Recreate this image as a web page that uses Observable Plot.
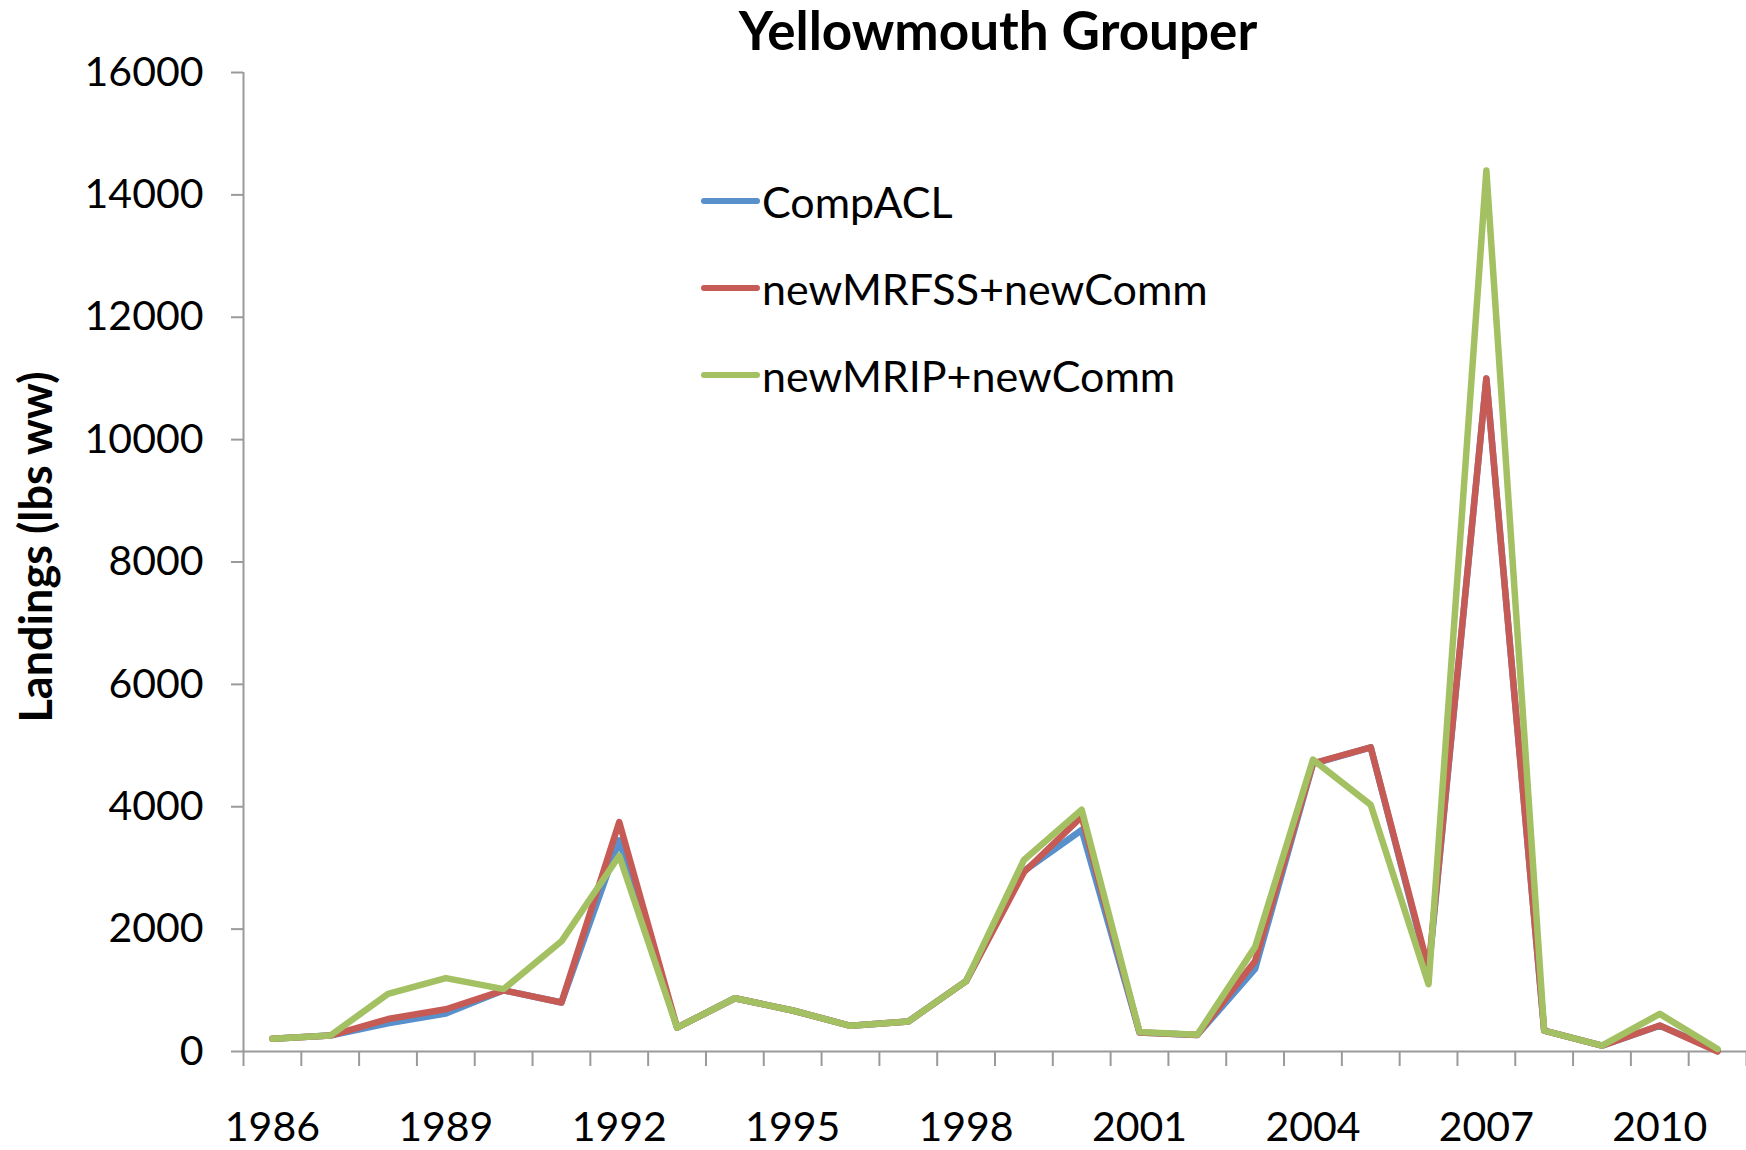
<!DOCTYPE html>
<html><head><meta charset="utf-8">
<script src="https://cdn.jsdelivr.net/npm/d3@7"></script>
<script src="https://cdn.jsdelivr.net/npm/@observablehq/plot@0.6"></script>
<style>
body{margin:0;background:#fff;}
#wrap{position:relative;width:1746px;height:1150px;font-family:Lato, sans-serif;}
.leg{position:absolute;display:flex;align-items:center;font-size:43px;color:#000;white-space:nowrap;}
.leg svg{margin-right:1px;}
</style></head><body><div id="wrap"></div>
<script>
const years = [1986,1987,1988,1989,1990,1991,1992,1993,1994,1995,1996,1997,1998,1999,2000,2001,2002,2003,2004,2005,2006,2007,2008,2009,2010,2011];
const compACL = [210,260,460,620,1000,800,3450,390,870,670,420,490,1150,2950,3620,310,270,1350,4700,4970,1300,11000,340,95,420,20];
const newMRFSS = [210,260,530,690,1000,800,3750,390,870,670,420,490,1150,2930,3840,310,270,1480,4710,4970,1350,11000,340,95,425,0];
const newMRIP = [210,260,940,1200,1020,1800,3200,390,870,670,420,490,1150,3130,3950,320,275,1710,4770,4030,1100,14400,340,95,615,40];
const seriesNames = ["CompACL","newMRFSS+newComm","newMRIP+newComm"];
const seriesColors = ["#5890CC","#C65B55","#A3C162"];
const yTicks = [0,2000,4000,6000,8000,10000,12000,14000,16000];
const xLabelYears = [1986,1989,1992,1995,1998,2001,2004,2007,2010];
const titleText = "Yellowmouth Grouper";
const yLabelText = "Landings (lbs ww)";

const seriesValues = [compACL, newMRFSS, newMRIP];
const rows = [];
seriesValues.forEach((vals, i) => vals.forEach((v, j) => rows.push({year: years[j], value: v, series: seriesNames[i]})));
const boundaries = [years[0] - 0.5, ...years.map(y => y + 0.5)];
const axisGray = "#9a9a9a";

const chart = Plot.plot({
  width: 1746, height: 1150,
  marginLeft: 243, marginRight: 0, marginTop: 72, marginBottom: 99,
  style: {fontFamily: "Lato, sans-serif", fontSize: "40px", color: "#000", background: "#fff", overflow: "visible"},
  x: {domain: [boundaries[0], boundaries[boundaries.length - 1]], axis: null},
  y: {domain: [0, 16000], axis: null},
  color: {domain: seriesNames, range: seriesColors},
  marks: [
    Plot.axisY({ticks: yTicks, tickFormat: d3.format("d"), tickSize: 12, tickPadding: 28, stroke: axisGray, strokeWidth: 2, fontSize: 41, label: null}),
    Plot.axisX({ticks: boundaries, tickFormat: () => "", tickSize: 15, stroke: axisGray, strokeWidth: 2, label: null}),
    Plot.axisX({ticks: xLabelYears, tickFormat: d3.format("d"), tickSize: 0, tickPadding: 60, fontSize: 41, label: null}),
    Plot.ruleX([boundaries[0]], {stroke: axisGray, strokeWidth: 2}),
    Plot.ruleY([0], {stroke: axisGray, strokeWidth: 2}),
    Plot.line(rows, {x: "year", y: "value", z: "series", stroke: "series", strokeWidth: 6.5}),
    Plot.text([titleText], {text: d => d, frameAnchor: "top", lineAnchor: "bottom", dy: -23, dx: 3, fontWeight: "bold", fontSize: 53}),
    Plot.text([yLabelText], {text: d => d, frameAnchor: "left", textAnchor: "middle", rotate: -90, dx: -206, dy: -15, fontWeight: "bold", fontSize: 45})
  ]
});
const wrap = document.getElementById("wrap");
wrap.appendChild(chart);

const legendTops = [201, 288, 375];
seriesNames.forEach((name, i) => {
  const item = document.createElement("div");
  item.className = "leg";
  item.style.left = "699px";
  item.style.top = (legendTops[i] - 25) + "px";
  item.style.height = "50px";
  item.innerHTML = `<svg width="62" height="10"><line x1="5" y1="5" x2="58" y2="5" stroke="${seriesColors[i]}" stroke-width="6" stroke-linecap="round"/></svg><span>${name}</span>`;
  wrap.appendChild(item);
});
</script></body></html>
